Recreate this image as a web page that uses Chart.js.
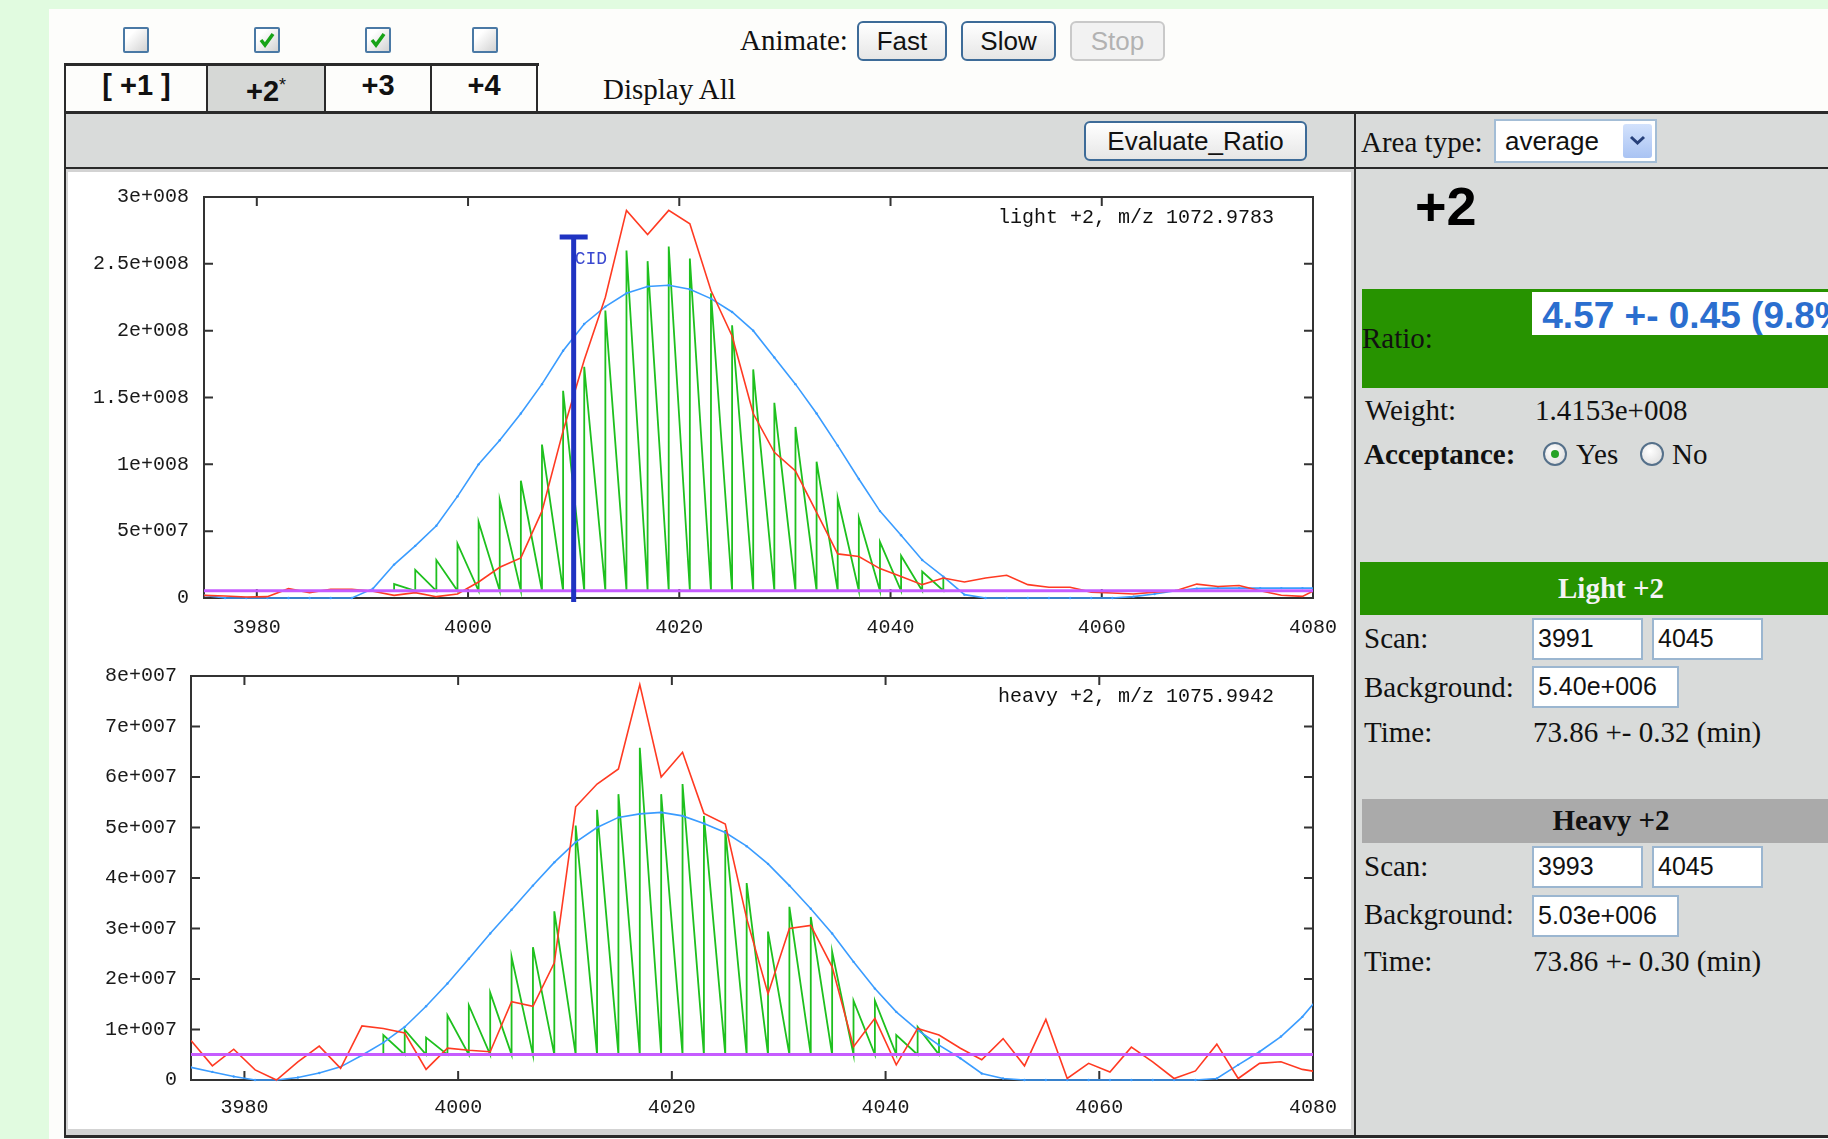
<!DOCTYPE html>
<html>
<head>
<meta charset="utf-8">
<script src="https://cdn.jsdelivr.net/npm/chart.js@4.4.1/dist/chart.umd.min.js"></script>
<style>
body { margin:0; width:1828px; height:1139px; overflow:hidden; background:#e1fbe0; position:relative; }
.a { position:absolute; }
.serif { font-family:"Liberation Serif", serif; font-size:29px; line-height:1; color:#111; white-space:nowrap; }
.sans { font-family:"Liberation Sans", Arial, sans-serif; white-space:nowrap; }
.line { position:absolute; background:#2a2a2a; }
.cb { position:absolute; top:27px; width:22px; height:22px; border:2px solid #4a79a5; border-radius:2px;
      background:linear-gradient(135deg,#ffffff 25%,#d2d2d2); }
.btn { position:absolute; top:21px; height:36px; border:2px solid #3d6b98; border-radius:6px;
       background:linear-gradient(#ffffff,#e6e6e6); display:flex; align-items:center; justify-content:center;
       font-size:26px; color:#111; box-sizing:content-box; }
.tab { position:absolute; top:66px; height:45px; line-height:39px; text-align:center; font-weight:bold; font-size:29px; color:#111; }
.inp { position:absolute; height:39px; background:#fff; border:2px solid #9bb6d0; box-sizing:border-box;
       font-size:25px; line-height:37px; padding-left:4px; color:#111; }
.radio { position:absolute; width:20px; height:20px; border-radius:50%; border:2px solid #55708a;
         background:radial-gradient(circle at 40% 35%,#ffffff,#d8d8d8); }
</style>
</head>
<body>
<div class="a" style="left:49px;top:9px;width:1779px;height:1130px;background:#fdfdfb;"></div>

<!-- checkboxes -->
<div class="cb" style="left:123px"></div>
<div class="cb" style="left:254px"><svg width="22" height="22"><polyline points="5,11 9,16 17,5" fill="none" stroke="#17a317" stroke-width="3.5"/></svg></div>
<div class="cb" style="left:365px"><svg width="22" height="22"><polyline points="5,11 9,16 17,5" fill="none" stroke="#17a317" stroke-width="3.5"/></svg></div>
<div class="cb" style="left:472px"></div>

<!-- animate -->
<div class="a serif" style="left:740px;top:26px;">Animate:</div>
<div class="btn sans" style="left:857px;width:86px;">Fast</div>
<div class="btn sans" style="left:961px;width:91px;">Slow</div>
<div class="btn sans" style="left:1070px;width:91px;border-color:#c9c9c9;color:#b2b2b2;background:#f2f2f2;">Stop</div>

<!-- tabs -->
<div class="line" style="left:64px;top:63px;width:475px;height:3px;"></div>
<div class="tab sans" style="left:66px;width:141px;">[ +1 ]</div>
<div class="tab sans" style="left:207px;width:118px;background:#d6d8d6;">+2<span style="font-size:18px;font-weight:normal;vertical-align:10px;">*</span></div>
<div class="tab sans" style="left:325px;width:106px;">+3</div>
<div class="tab sans" style="left:431px;width:106px;">+4</div>
<div class="line" style="left:206px;top:64px;width:2px;height:48px;"></div>
<div class="line" style="left:324px;top:64px;width:2px;height:48px;"></div>
<div class="line" style="left:430px;top:64px;width:2px;height:48px;"></div>
<div class="line" style="left:536px;top:64px;width:2px;height:48px;"></div>
<div class="a serif" style="left:603px;top:75px;">Display All</div>

<!-- gray bar -->
<div class="a" style="left:66px;top:114px;width:1762px;height:53px;background:#d9dbda;"></div>
<div class="line" style="left:64px;top:111px;width:1764px;height:3px;"></div>
<div class="line" style="left:64px;top:167px;width:1764px;height:2px;"></div>
<div class="btn sans" style="left:1084px;top:121px;width:219px;">Evaluate_Ratio</div>
<div class="a serif" style="left:1361px;top:128px;">Area type:</div>
<div class="a sans" style="left:1494px;top:119px;width:163px;height:44px;background:#fff;border:2px solid #a3bdd6;box-sizing:border-box;font-size:26px;line-height:40px;padding-left:9px;color:#111;">average</div>
<div class="a" style="left:1623px;top:124px;width:29px;height:34px;border-radius:3px;background:linear-gradient(#d3e2fc,#a9c3f3);"><svg width="29" height="34"><polyline points="8,13 14.5,19 21,13" fill="none" stroke="#27407a" stroke-width="3"/></svg></div>

<!-- panels -->
<div class="a" style="left:66px;top:169px;width:1288px;height:966px;background:#fff;box-sizing:border-box;border-top:3px solid #d3d3d3;border-left:2px solid #d3d3d3;border-right:3px solid #d3d3d3;border-bottom:6px solid #d3d3d3;"></div>
<div class="a" style="left:1356px;top:169px;width:472px;height:966px;background:#d9dbda;"></div>
<div class="line" style="left:64px;top:63px;width:2px;height:1075px;"></div>
<div class="line" style="left:1354px;top:113px;width:2px;height:1025px;"></div>
<div class="line" style="left:64px;top:1135px;width:1764px;height:3px;"></div>

<!-- right panel -->
<div class="a sans" style="left:1415px;top:179px;font-size:54px;font-weight:bold;line-height:1;color:#000;">+2</div>
<div class="a" style="left:1362px;top:289px;width:466px;height:99px;background:#279300;"></div>
<div class="a sans" style="left:1532px;top:292px;width:296px;height:43px;background:#fff;overflow:hidden;font-size:37px;font-weight:bold;line-height:1;color:#2b6ecf;padding-top:5px;box-sizing:border-box;">&nbsp;4.57 +- 0.45 (9.8%)</div>
<div class="a serif" style="left:1362px;top:324px;">Ratio:</div>
<div class="a serif" style="left:1365px;top:396px;">Weight:</div>
<div class="a serif" style="left:1535px;top:396px;">1.4153e+008</div>
<div class="a serif" style="left:1364px;top:440px;font-weight:bold;">Acceptance:</div>
<div class="radio" style="left:1543px;top:442px;"><div style="position:absolute;left:6px;top:6px;width:8px;height:8px;border-radius:50%;background:#27a327;"></div></div>
<div class="a serif" style="left:1576px;top:440px;">Yes</div>
<div class="radio" style="left:1640px;top:442px;"></div>
<div class="a serif" style="left:1672px;top:440px;">No</div>

<div class="a" style="left:1360px;top:562px;width:468px;height:53px;background:#279300;"></div>
<div class="a serif" style="left:1360px;top:574px;width:502px;text-align:center;font-weight:bold;color:#f4f4f4;">Light +2</div>
<div class="a serif" style="left:1364px;top:624px;">Scan:</div>
<div class="inp sans" style="left:1532px;top:618px;width:111px;height:42px;">3991</div>
<div class="inp sans" style="left:1652px;top:618px;width:111px;height:42px;">4045</div>
<div class="a serif" style="left:1364px;top:673px;">Background:</div>
<div class="inp sans" style="left:1532px;top:666px;width:147px;height:42px;">5.40e+006</div>
<div class="a serif" style="left:1364px;top:718px;">Time:</div>
<div class="a serif" style="left:1533px;top:718px;">73.86 +- 0.32 (min)</div>

<div class="a" style="left:1362px;top:799px;width:466px;height:44px;background:#aaaaaa;"></div>
<div class="a serif" style="left:1360px;top:806px;width:502px;text-align:center;font-weight:bold;color:#111;">Heavy +2</div>
<div class="a serif" style="left:1364px;top:852px;">Scan:</div>
<div class="inp sans" style="left:1532px;top:846px;width:111px;height:42px;">3993</div>
<div class="inp sans" style="left:1652px;top:846px;width:111px;height:42px;">4045</div>
<div class="a serif" style="left:1364px;top:900px;">Background:</div>
<div class="inp sans" style="left:1532px;top:895px;width:147px;height:42px;">5.03e+006</div>
<div class="a serif" style="left:1364px;top:947px;">Time:</div>
<div class="a serif" style="left:1533px;top:947px;">73.86 +- 0.30 (min)</div>

<!-- charts -->
<div class="a" style="left:66px;top:170px;"><canvas id="lightChart" width="1286" height="480"></canvas></div>
<div class="a" style="left:66px;top:650px;"><canvas id="heavyChart" width="1286" height="479"></canvas></div>

<script>
// scans sampled by the red (raw) and blue (fit) curves
let scans = [3975, 3977, 3979, 3981, 3983, 3985, 3987, 3989, 3991, 3993,
             3995, 3997, 3999, 4001, 4003, 4005, 4007, 4009, 4011, 4013,
             4015, 4017, 4019, 4021, 4023, 4025, 4027, 4029, 4031, 4033,
             4035, 4037, 4039, 4041, 4043, 4045, 4047, 4049, 4051, 4053,
             4055, 4057, 4059, 4061, 4063, 4065, 4067, 4069, 4071, 4073,
             4075, 4077, 4079, 4081];

let lightRaw = [2.0e6, 1.5e6, 0.8e6, 1.0e6, 7.0e6, 4.0e6, 6.5e6, 6.5e6, 5.0e6, 2.0e6,
                4.0e6, 1.0e6, 3.0e6, 1.2e7, 2.3e7, 3.0e7, 6.5e7, 1.25e8, 1.78e8, 2.25e8,
                2.9e8, 2.72e8, 2.9e8, 2.8e8, 2.3e8, 1.96e8, 1.38e8, 1.09e8, 9.5e7, 6.4e7,
                3.3e7, 3.1e7, 2.2e7, 1.6e7, 1.0e7, 1.5e7, 1.2e7, 1.5e7, 1.7e7, 1.0e7,
                8.0e6, 8.0e6, 4.4e6, 3.7e6, 3.0e6, 4.4e6, 5.4e6, 1.04e7, 8.6e6, 9.4e6,
                5.4e6, 2.0e6, 1.2e6, 9.0e6];
let lightFit = [2.0e6, 0, 0, 0, 0, 0, 0, 0, 7.0e6, 2.5e7,
                3.9e7, 5.4e7, 7.6e7, 1.0e8, 1.18e8, 1.38e8, 1.6e8, 1.85e8, 2.05e8, 2.18e8,
                2.28e8, 2.33e8, 2.34e8, 2.31e8, 2.24e8, 2.14e8, 2.0e8, 1.8e8, 1.6e8, 1.38e8,
                1.14e8, 8.9e7, 6.5e7, 4.7e7, 2.84e7, 1.6e7, 2.5e6, 0, 0, 0,
                0, 0, 0, 0, 1.0e6, 3.0e6, 5.4e6, 7.0e6, 7.4e6, 7.4e6,
                7.4e6, 7.4e6, 7.4e6, 7.4e6];
let lightScans = [3993, 3995, 3997, 3999, 4001, 4003, 4005, 4007, 4009, 4011,
                  4013, 4015, 4017, 4019, 4021, 4023, 4025, 4027, 4029, 4031,
                  4033, 4035, 4037, 4039, 4041, 4043, 4045];
let lightPeaks = [1.04e7, 2.1e7, 2.84e7, 4.07e7, 5.68e7, 7.33e7, 8.77e7, 1.148e8, 1.55e8, 1.73e8,
                  2.15e8, 2.6e8, 2.52e8, 2.63e8, 2.54e8, 2.28e8, 2.04e8, 1.71e8, 1.46e8, 1.28e8,
                  1.02e8, 7.46e7, 6.0e7, 4.2e7, 3.16e7, 1.98e7, 1.55e7];
let lightBg = 5.40e6;

let heavyRaw = [7.8e6, 2.8e6, 6.1e6, 2.0e6, 0, 3.6e6, 6.7e6, 2.3e6, 1.07e7, 1.02e7,
                9.3e6, 2.1e6, 6.3e6, 5.9e6, 5.6e6, 1.55e7, 1.46e7, 2.32e7, 5.41e7, 5.86e7,
                6.16e7, 7.83e7, 6.0e7, 6.49e7, 5.28e7, 5.07e7, 3.2e7, 1.71e7, 3.0e7, 3.06e7,
                2.24e7, 6.6e6, 1.22e7, 3.0e6, 1.02e7, 8.9e6, 6.3e6, 4.0e6, 8.2e6, 2.8e6,
                1.2e7, 3.0e5, 3.3e6, 1.6e6, 6.5e6, 3.6e6, 3.0e5, 1.8e6, 7.1e6, 3.0e5,
                3.3e6, 3.6e6, 2.1e6, 1.4e6];
let heavyFit = [2.5e6, 1.6e6, 7.0e5, 0, 0, 5.0e5, 1.4e6, 2.6e6, 4.9e6, 7.4e6,
                1.05e7, 1.46e7, 1.91e7, 2.4e7, 2.9e7, 3.37e7, 3.85e7, 4.31e7, 4.71e7, 5.0e7,
                5.2e7, 5.27e7, 5.3e7, 5.23e7, 5.08e7, 4.9e7, 4.63e7, 4.28e7, 3.85e7, 3.39e7,
                2.9e7, 2.34e7, 1.81e7, 1.35e7, 9.9e6, 6.9e6, 4.3e6, 1.3e6, 3.0e5, 0,
                0, 0, 0, 0, 0, 0, 0, 0, 3.0e5, 3.0e6,
                5.6e6, 8.6e6, 1.25e7, 1.75e7];
let heavyScans = [3993, 3995, 3997, 3999, 4001, 4003, 4005, 4007, 4009, 4011,
                  4013, 4015, 4017, 4019, 4021, 4023, 4025, 4027, 4029, 4031,
                  4033, 4035, 4037, 4039, 4041, 4043, 4045];
let heavyPeaks = [8.9e6, 9.9e6, 8.4e6, 1.28e7, 1.48e7, 1.73e7, 2.44e7, 2.63e7, 3.34e7, 5.04e7,
                  5.35e7, 5.66e7, 6.58e7, 5.66e7, 5.86e7, 5.23e7, 4.95e7, 3.9e7, 2.94e7, 3.43e7,
                  3.23e7, 2.54e7, 1.57e7, 1.57e7, 8.9e6, 1.05e7, 8.2e6];
let heavyBg = 5.03e6;

let xRange = [3975, 4080];
let xTicks = [3980, 4000, 4020, 4040, 4060, 4080];
let lightYTicks = [0, 5e7, 1e8, 1.5e8, 2e8, 2.5e8, 3e8];
let lightYLabels = ['0', '5e+007', '1e+008', '1.5e+008', '2e+008', '2.5e+008', '3e+008'];
let heavyYTicks = [0, 1e7, 2e7, 3e7, 4e7, 5e7, 6e7, 7e7, 8e7];
let heavyYLabels = ['0', '1e+007', '2e+007', '3e+007', '4e+007', '5e+007', '6e+007', '7e+007', '8e+007'];

let cidScan = 4010;
let cidTop = 2.7e8;

Chart.defaults.font.family = '"Liberation Mono", monospace';
Chart.defaults.font.size = 20;
Chart.defaults.color = '#1a1a1a';

function xy(xs, ys) {
  return xs.map(function (x, i) { return { x: x, y: ys[i] }; });
}
// vertical stick at each scan, then back down to the background at the next one
function sawtooth(xs, peaks, bg) {
  let pts = [];
  xs.forEach(function (x, i) {
    pts.push({ x: x, y: bg });
    pts.push({ x: x, y: peaks[i] });
  });
  return pts;
}

let framePlugin = {
  id: 'frame',
  beforeDatasetsDraw(chart, args, opts) {
    let ctx = chart.ctx, a = chart.chartArea, sx = chart.scales.x, sy = chart.scales.y;
    ctx.save();
    ctx.strokeStyle = '#333';
    ctx.lineWidth = 2;
    ctx.strokeRect(a.left, a.top, a.right - a.left, a.bottom - a.top);
    ctx.beginPath();
    sx.ticks.forEach(function (t) {
      let px = sx.getPixelForValue(t.value);
      ctx.moveTo(px, a.bottom); ctx.lineTo(px, a.bottom - 9);
      ctx.moveTo(px, a.top); ctx.lineTo(px, a.top + 9);
    });
    sy.ticks.forEach(function (t) {
      let py = sy.getPixelForValue(t.value);
      ctx.moveTo(a.left, py); ctx.lineTo(a.left + 9, py);
      ctx.moveTo(a.right, py); ctx.lineTo(a.right - 9, py);
    });
    ctx.stroke();
    ctx.font = '20px "Liberation Mono"';
    ctx.fillStyle = '#111';
    ctx.textAlign = 'right';
    ctx.textBaseline = 'middle';
    ctx.fillText(opts.title, a.right - 39, a.top + 21);
    ctx.restore();
  },
  afterDatasetsDraw(chart, args, opts) {
    if (!opts.cid) return;
    let ctx = chart.ctx, a = chart.chartArea;
    let px = chart.scales.x.getPixelForValue(opts.cid[0]);
    let top = chart.scales.y.getPixelForValue(opts.cid[1]);
    ctx.save();
    ctx.strokeStyle = '#1f33c2';
    ctx.lineWidth = 5;
    ctx.beginPath();
    ctx.moveTo(px, a.bottom + 4); ctx.lineTo(px, top);
    ctx.moveTo(px - 14, top); ctx.lineTo(px + 14, top);
    ctx.stroke();
    ctx.font = '18px "Liberation Mono"';
    ctx.fillStyle = '#3a48d0';
    ctx.textAlign = 'left';
    ctx.textBaseline = 'top';
    ctx.fillText('CID', px + 1, top + 13);
    ctx.restore();
  }
};

function makeChart(id, o) {
  let clip = { left: 0, top: 0, right: 0, bottom: 4 };
  return new Chart(document.getElementById(id), {
    type: 'line',
    data: {
      datasets: [
        { data: [{ x: xRange[0], y: o.bg }, { x: xRange[1], y: o.bg }], borderColor: '#c65cff', borderWidth: 3, pointRadius: 0, clip: clip },
        { data: xy(scans, o.raw), borderColor: '#ff3a22', borderWidth: 1.6, pointRadius: 0, clip: clip },
        { data: xy(scans, o.fit), borderColor: '#3a9cff', borderWidth: 1.6, pointRadius: 1.2, pointBorderWidth: 0, pointBackgroundColor: '#3a9cff', clip: clip },
        { data: sawtooth(o.scans, o.peaks, o.bg), borderColor: '#1ec01e', borderWidth: 1.8, pointRadius: 0, clip: clip }
      ]
    },
    options: {
      responsive: false,
      animation: false,
      events: [],
      layout: { padding: { left: 0, top: 26, right: 39, bottom: 0 } },
      plugins: {
        legend: { display: false },
        tooltip: { enabled: false },
        frame: { title: o.title, cid: o.cid }
      },
      scales: {
        x: {
          type: 'linear', min: xRange[0], max: xRange[1],
          grid: { display: false, drawTicks: false },
          border: { display: false },
          ticks: { padding: o.xPad, autoSkip: false, maxRotation: 0, callback: function (v) { return String(v); } },
          afterBuildTicks: function (s) { s.ticks = xTicks.map(function (v) { return { value: v }; }); },
          afterFit: function (s) { s.height = o.xHeight; s.paddingLeft = 0; s.paddingRight = 0; }
        },
        y: {
          type: 'linear', min: 0, max: o.yTicks[o.yTicks.length - 1],
          grid: { display: false, drawTicks: false },
          border: { display: false },
          ticks: {
            padding: o.yPad, autoSkip: false,
            callback: function (v) { let i = o.yTicks.indexOf(v); return i >= 0 ? o.yLabels[i] : ''; }
          },
          afterBuildTicks: function (s) { s.ticks = o.yTicks.map(function (v) { return { value: v }; }); },
          afterFit: function (s) { s.width = o.yWidth; }
        }
      }
    },
    plugins: [framePlugin]
  });
}

let lightChart = makeChart('lightChart', {
  raw: lightRaw, fit: lightFit, scans: lightScans, peaks: lightPeaks, bg: lightBg,
  yTicks: lightYTicks, yLabels: lightYLabels, title: 'light +2, m/z 1072.9783',
  cid: [cidScan, cidTop], yWidth: 138, yPad: 15, xHeight: 52, xPad: 18
});
let heavyChart = makeChart('heavyChart', {
  raw: heavyRaw, fit: heavyFit, scans: heavyScans, peaks: heavyPeaks, bg: heavyBg,
  yTicks: heavyYTicks, yLabels: heavyYLabels, title: 'heavy +2, m/z 1075.9942',
  cid: null, yWidth: 125, yPad: 14, xHeight: 49, xPad: 16
});
</script>
</body>
</html>
